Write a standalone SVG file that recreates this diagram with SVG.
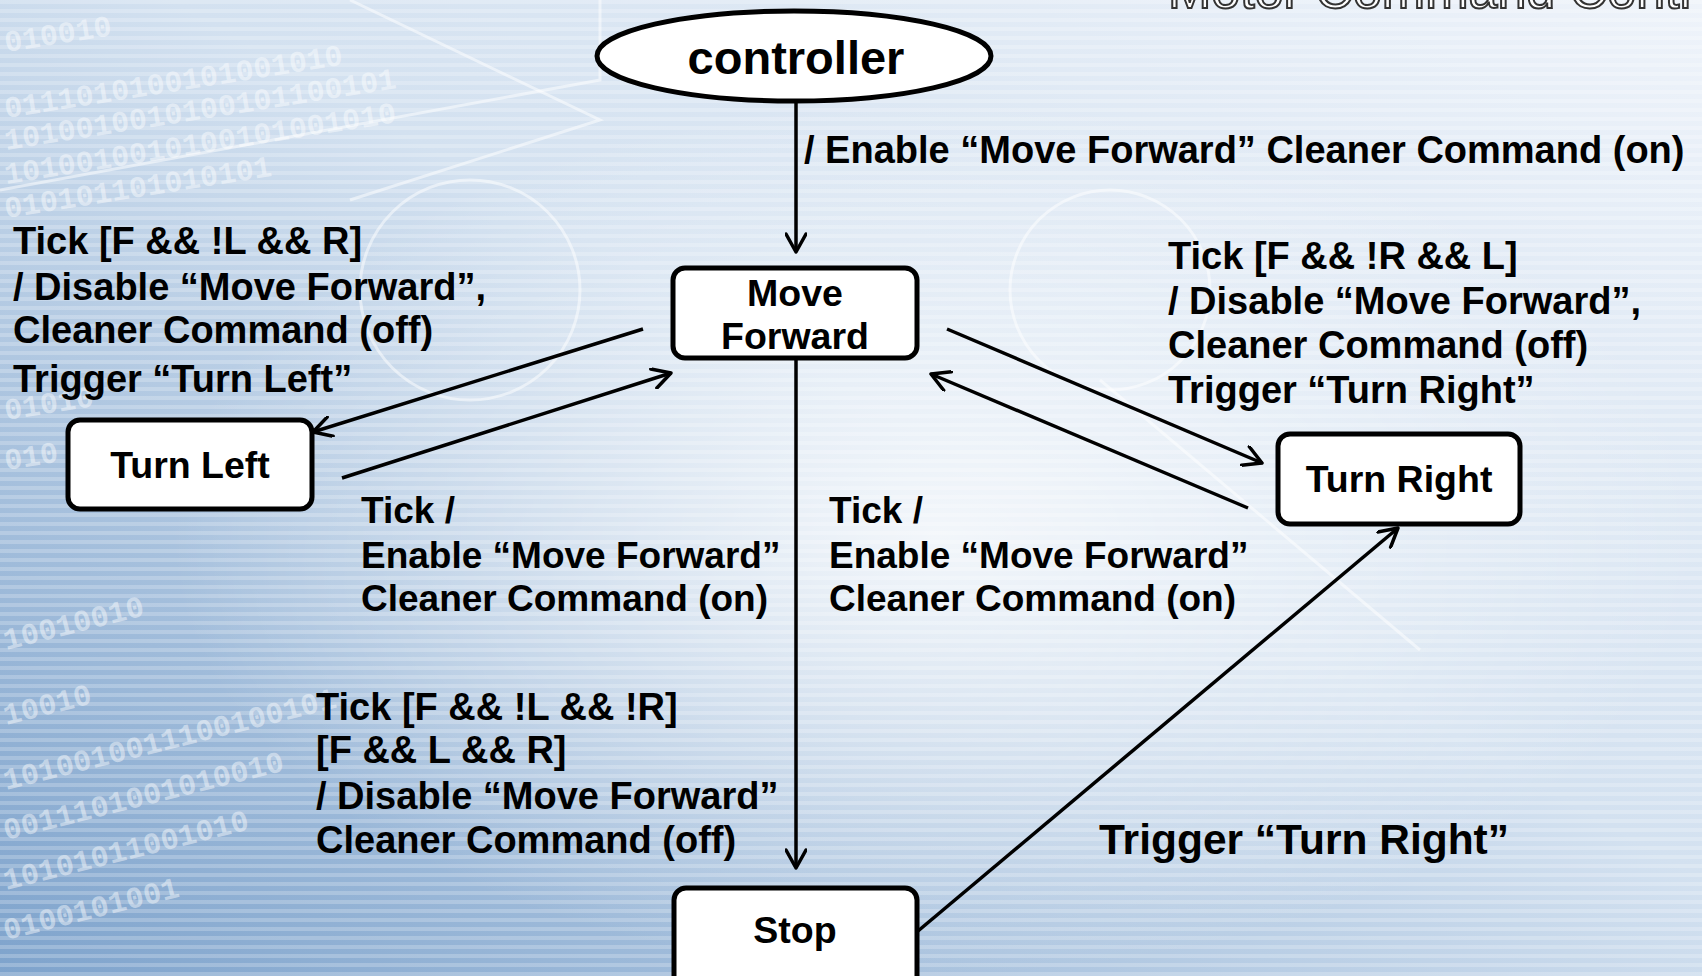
<svg xmlns="http://www.w3.org/2000/svg" width="1702" height="976" viewBox="0 0 1702 976">
  <defs>
    <linearGradient id="bgGrad" x1="1" y1="0" x2="0" y2="1">
      <stop offset="0" stop-color="#eef3fa"/>
      <stop offset="0.45" stop-color="#d3e1f0"/>
      <stop offset="1" stop-color="#7ea3cc"/>
    </linearGradient>
    <radialGradient id="glow" cx="0.55" cy="0.55" r="0.45">
      <stop offset="0" stop-color="#ffffff" stop-opacity="0.75"/>
      <stop offset="1" stop-color="#ffffff" stop-opacity="0"/>
    </radialGradient>
    <pattern id="stripes" width="8" height="9" patternUnits="userSpaceOnUse">
      <rect width="8" height="4" fill="#ffffff" fill-opacity="0.22"/>
    </pattern>
    <marker id="arrow" viewBox="0 0 22 22" refX="20" refY="11" markerWidth="22" markerHeight="22" markerUnits="userSpaceOnUse" orient="auto">
      <path d="M2,1 L20,11 L2,21" fill="none" stroke="#000" stroke-width="3.5" stroke-linecap="round" stroke-linejoin="round"/>
    </marker>
    <style>
      .node { fill: #ffffff; stroke: #000000; stroke-width: 5; }
      .ntext { font-family: "Liberation Sans", Arial, sans-serif; font-weight: bold; font-size: 37.5px; fill: #000; text-anchor: middle; }
      .big { font-size: 47px; }
      .lbl { font-family: "Liberation Sans", Arial, sans-serif; font-weight: bold; font-size: 38px; fill: #000; }
      .lbl.mid { font-size: 37px; }
      .lbl.wide { font-size: 42.5px; }
      .edge { fill: none; stroke: #000; stroke-width: 3.5; marker-end: url(#arrow); }
      .bits { font-family: "Liberation Mono", monospace; font-weight: bold; font-size: 30px; fill: #ffffff; fill-opacity: 0.45; }
      .deco { fill: none; stroke: #ffffff; stroke-opacity: 0.5; stroke-width: 3; }
      .title { font-family: "Liberation Sans", Arial, sans-serif; font-size: 52px; fill: #ffffff; stroke: #333333; stroke-width: 2; }
    </style>
  </defs>

  <!-- backdrop -->
  <g id="background">
    <rect width="1702" height="976" fill="url(#bgGrad)"/>
    <rect width="1702" height="976" fill="url(#glow)"/>
    <rect width="1702" height="976" fill="url(#stripes)"/>
    <path class="deco" d="M600,0 L600,80 L0,190"/>
    <path class="deco" d="M350,0 L600,120 L350,200"/>
    <circle class="deco" cx="470" cy="290" r="110" stroke-opacity="0.35"/>
    <circle class="deco" cx="1110" cy="290" r="100" stroke-opacity="0.3"/>
    <path class="deco" d="M1100,380 L1420,650" stroke-width="8" stroke-opacity="0.35"/>
    <text class="bits" x="6" y="52" transform="rotate(-9 6 52)">010010</text>
    <text class="bits" x="6" y="118" transform="rotate(-9 6 118)">0111010100101001010</text>
    <text class="bits" x="6" y="150" transform="rotate(-9 6 150)">1010010010100101100101</text>
    <text class="bits" x="6" y="184" transform="rotate(-9 6 184)">1010010010100101001010</text>
    <text class="bits" x="6" y="218" transform="rotate(-9 6 218)">010101101010101</text>
    <text class="bits" x="6" y="420" transform="rotate(-9 6 420)">01010</text>
    <text class="bits" x="6" y="470" transform="rotate(-9 6 470)">010</text>
    <text class="bits" x="6" y="650" transform="rotate(-14 6 650)">10010010</text>
    <text class="bits" x="6" y="725" transform="rotate(-14 6 725)">10010</text>
    <text class="bits" x="6" y="790" transform="rotate(-14 6 790)">1010010011100100101</text>
    <text class="bits" x="6" y="840" transform="rotate(-14 6 840)">0011101001010010</text>
    <text class="bits" x="6" y="890" transform="rotate(-14 6 890)">10101011001010</text>
    <text class="bits" x="6" y="940" transform="rotate(-14 6 940)">0100101001</text>
    <text class="title" x="1168" y="8">Motor Command Contr</text>
  </g>

  <!-- transitions -->
  <g id="connectors">
    <line class="edge" x1="796" y1="103" x2="796" y2="252"/>
    <line class="edge" x1="643" y1="329" x2="313" y2="432"/>
    <line class="edge" x1="342" y1="478" x2="671" y2="373"/>
    <line class="edge" x1="947" y1="329" x2="1262" y2="463"/>
    <line class="edge" x1="1248" y1="508" x2="931" y2="374"/>
    <line class="edge" x1="796" y1="359" x2="796" y2="868"/>
    <line class="edge" x1="918" y1="931" x2="1398" y2="528"/>
  </g>

  <!-- states -->
  <g id="controller">
    <ellipse class="node" cx="794" cy="56" rx="197" ry="45"/>
    <text class="ntext big" x="796" y="74">controller</text>
  </g>
  <g id="move-forward">
    <rect class="node" x="673" y="268" width="244" height="90" rx="12"/>
    <text class="ntext" x="795" y="306">Move</text>
    <text class="ntext" x="795" y="349">Forward</text>
  </g>
  <g id="turn-left">
    <rect class="node" x="68" y="420" width="244" height="89" rx="12"/>
    <text class="ntext" x="190" y="478">Turn Left</text>
  </g>
  <g id="turn-right">
    <rect class="node" x="1278" y="434" width="242" height="90" rx="12"/>
    <text class="ntext" x="1399" y="492">Turn Right</text>
  </g>
  <g id="stop">
    <rect class="node" x="674" y="888" width="243" height="100" rx="12"/>
    <text class="ntext" x="795" y="943">Stop</text>
  </g>

  <!-- transition labels -->
  <g id="labels">
    <text class="lbl" x="804" y="163">/ Enable “Move Forward” Cleaner Command (on)</text>

    <text class="lbl" x="13" y="254">Tick [F &amp;&amp; !L &amp;&amp; R]</text>
    <text class="lbl" x="13" y="300">/ Disable “Move Forward”,</text>
    <text class="lbl" x="13" y="343">Cleaner Command (off)</text>
    <text class="lbl" x="13" y="392">Trigger “Turn Left”</text>

    <text class="lbl" x="1168" y="269">Tick [F &amp;&amp; !R &amp;&amp; L]</text>
    <text class="lbl" x="1168" y="314">/ Disable “Move Forward”,</text>
    <text class="lbl" x="1168" y="358">Cleaner Command (off)</text>
    <text class="lbl" x="1168" y="403">Trigger “Turn Right”</text>

    <text class="lbl mid" x="361" y="523">Tick /</text>
    <text class="lbl mid" x="361" y="568">Enable “Move Forward”</text>
    <text class="lbl mid" x="361" y="611">Cleaner Command (on)</text>

    <text class="lbl mid" x="829" y="523">Tick /</text>
    <text class="lbl mid" x="829" y="568">Enable “Move Forward”</text>
    <text class="lbl mid" x="829" y="611">Cleaner Command (on)</text>

    <text class="lbl" x="316" y="720">Tick [F &amp;&amp; !L &amp;&amp; !R]</text>
    <text class="lbl" x="316" y="763">[F &amp;&amp; L &amp;&amp; R]</text>
    <text class="lbl" x="316" y="809">/ Disable “Move Forward”</text>
    <text class="lbl" x="316" y="853">Cleaner Command (off)</text>

    <text class="lbl wide" x="1099" y="854">Trigger “Turn Right”</text>
  </g>
</svg>
